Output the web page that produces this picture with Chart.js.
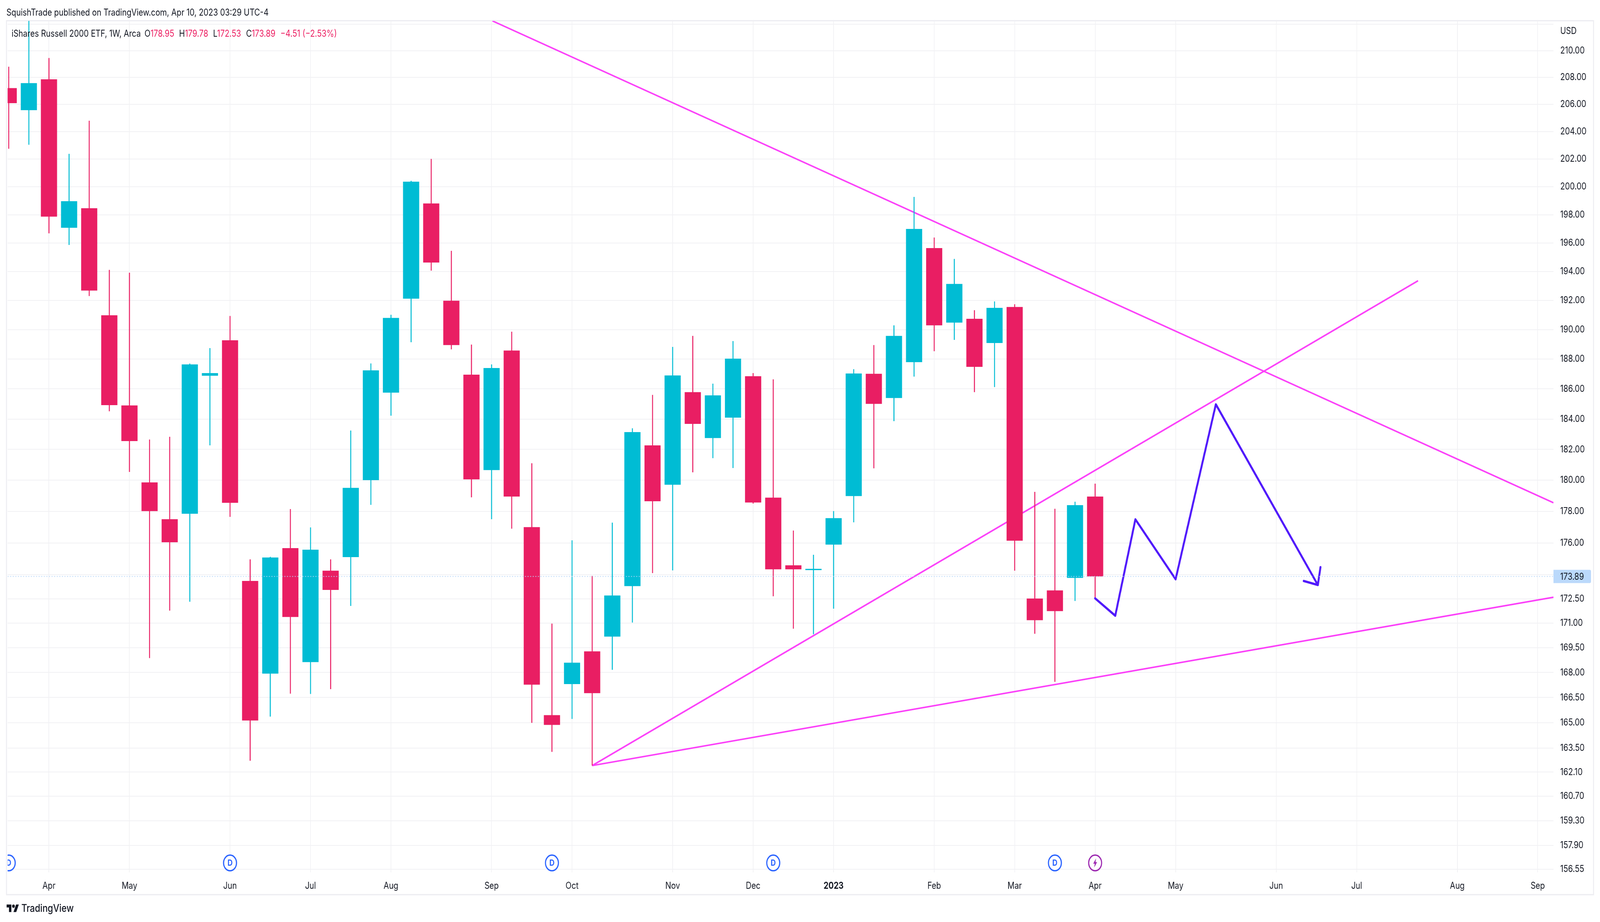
<!DOCTYPE html>
<html>
<head>
<meta charset="utf-8">
<script src="https://cdn.jsdelivr.net/npm/chart.js@4/dist/chart.umd.js"></script>
<style>
html,body{margin:0;padding:0;background:#fff;width:100%;height:100%;overflow:hidden}
#stage{position:absolute;left:0;top:0;width:4948px;height:2360px;transform-origin:0 0}
canvas{position:absolute;left:0;top:0}
.t{position:absolute;white-space:pre;font-family:Inter,sans-serif;font-size:24px;line-height:30px;color:#131722}
.r{color:#ec1f62}
</style>
</head>
<body>
<div id="stage">
<canvas id="c" width="4948" height="2360" style="width:4948px;height:2360px"></canvas>
<div class="t" style="left:20px;top:17px">SquishTrade published on TradingView.com, Apr 10, 2023 03:29 UTC-4</div>
<div class="t" style="left:36px;top:71px">iShares Russell 2000 ETF, 1W, Arca</div>
<div class="t" style="left:447px;top:71px">O<span class="r">178.95</span></div>
<div class="t" style="left:554px;top:71px">H<span class="r">179.78</span></div>
<div class="t" style="left:659px;top:71px">L<span class="r">172.53</span></div>
<div class="t" style="left:761px;top:71px">C<span class="r">173.89</span></div>
<div class="t r" style="left:867px;top:71px">−4.51 (−2.53%)</div>
<svg style="position:absolute;left:20px;top:2311px" width="39" height="30" viewBox="0 0 36 28"><path fill="#131722" d="M14 22H7V11H0V4h14v18zM28 22h-8l7.5-18h8L28 22z"/><circle fill="#131722" cx="20" cy="8" r="4"/></svg>
<div class="t" style="left:66px;top:2310px;font-size:27px;font-weight:500">TradingView</div>
</div>
<script>
const opens  = [207.20,205.57,207.86,197.07,198.46,190.98,184.90,179.86,177.50,177.85,186.88,189.27,173.61,167.93,175.67,168.63,174.25,175.10,180.01,185.75,192.12,198.80,191.98,186.95,180.66,188.58,177.00,165.45,167.30,169.28,170.18,173.29,182.27,179.71,185.78,182.75,184.09,186.85,178.88,174.59,174.29,175.89,178.98,187.01,185.39,187.79,195.64,190.48,190.74,189.09,191.55,172.52,173.02,173.80,178.95];
const highs  = [208.80,214.00,209.45,202.37,204.79,194.12,193.92,182.65,182.83,187.70,188.74,190.93,174.96,175.12,178.15,176.98,174.96,183.24,187.71,191.01,200.42,202.00,195.45,188.98,187.64,189.86,181.10,170.97,176.16,173.93,177.28,183.39,185.60,188.82,189.57,186.35,189.22,187.06,186.64,176.78,175.25,178.02,187.32,188.95,190.29,199.27,196.38,194.88,191.33,191.93,191.74,179.25,178.17,178.62,179.78];
const lows   = [202.74,203.03,196.68,195.86,192.30,184.51,180.54,168.87,171.77,172.32,182.27,177.65,162.76,165.36,166.73,166.71,167.00,172.06,178.42,184.22,189.14,194.06,188.66,178.90,177.50,176.90,164.99,163.28,165.22,162.48,168.16,171.04,174.10,174.27,180.51,181.43,180.79,178.50,172.66,170.66,170.32,171.89,177.30,180.77,183.86,186.82,188.53,189.30,185.78,186.12,174.25,170.35,167.44,172.37,172.53];
const closes = [206.09,207.57,197.86,198.96,192.68,184.92,182.55,178.02,176.04,187.64,187.06,178.55,165.13,175.08,171.38,175.57,173.05,179.51,187.24,190.80,200.36,194.63,188.95,180.06,187.40,178.95,167.27,164.87,168.59,166.76,172.71,183.14,178.65,186.90,183.68,185.57,188.03,178.57,174.34,174.34,174.37,177.57,187.03,185.00,189.57,196.99,190.29,193.14,187.48,191.49,176.14,171.18,171.74,178.40,173.89];

const xTickWeeks  = [2,6,11,15,19,24,28,33,37,41,46,50,54,58,63,67,72,76];
const xTickLabels = ['Apr','May','Jun','Jul','Aug','Sep','Oct','Nov','Dec','2023','Feb','Mar','Apr','May','Jun','Jul','Aug','Sep'];
const yTicks      = [212,210,208,206,204,202,200,198,196,194,192,190,188,186,184,182,180,178,176,174,172.5,171,169.5,168,166.5,165,163.5,162.1,160.7,159.3,157.9,156.55];
const yTickLabels = ['','210.00','208.00','206.00','204.00','202.00','200.00','198.00','196.00','194.00','192.00','190.00','188.00','186.00','184.00','182.00','180.00','178.00','176.00','','172.50','171.00','169.50','168.00','166.50','165.00','163.50','162.10','160.70','159.30','157.90','156.55'];

const lastPrice = 173.89;
const xMin = -0.056, xMax = 76.78, yMin = 156.37, yMax = 212.26;

const trendDown  = [{x:24.04,y:212.26},{x:76.78,y:178.55}];
const trendUp    = [{x:29,y:162.48},{x:70.05,y:193.36}];
const trendFloor = [{x:29,y:162.48},{x:76.78,y:172.60}];
const forecastPath = [{x:54,y:172.53},{x:55,y:171.46},{x:56,y:177.49},{x:58,y:173.72},{x:60,y:184.97},{x:65.07,y:173.36},{x:64.37,y:173.61},{x:65.07,y:173.36},{x:65.2,y:174.47}];

const dividendWeeks = [0,11,27,38,52];
const earningsWeeks = [54];
const markerPrice = 156.90;

// The browser window may be narrower than the 4948px design width: fit horizontally.
document.getElementById('stage').style.transform = 'scaleX(' + Math.min(1, window.innerWidth / 4948) + ')';

const UP = '#00bcd4', DOWN = '#e91e63', PINK = '#fb40f9', BLUE = '#5019fb', GRID = '#f1f1f4', BORDER = '#ececf1', INK = '#131722', DIV = '#2962ff', EARN = '#9c27b0';
const FONT = 'Inter, sans-serif';
const candleColors = closes.map((c,i)=> c < opens[i] ? DOWN : UP);
const wicks  = highs.map((h,i)=>({x:i,y:[lows[i],h]}));
const bodies = opens.map((o,i)=>({x:i,y:[Math.min(o,closes[i]),Math.max(o,closes[i])]}));
const markers = dividendWeeks.map(x=>({x,y:markerPrice})).concat(earningsWeeks.map(x=>({x,y:markerPrice})));
const markerColors = dividendWeeks.map(()=>DIV).concat(earningsWeeks.map(()=>EARN));

const overlay = {
  id:'overlay',
  beforeDraw(chart){
    const c = chart.ctx;
    c.save();
    c.strokeStyle = BORDER; c.lineWidth = 3;
    c.strokeRect(20,53,4908,2237);
    c.restore();
  },
  afterDraw(chart){
    const c = chart.ctx, x = chart.scales.x, y = chart.scales.y, a = chart.chartArea;
    c.save();
    c.beginPath(); c.rect(a.left,a.top,a.right-a.left,a.bottom-a.top+8); c.clip();
    c.textAlign='center'; c.textBaseline='middle';
    const my = y.getPixelForValue(markerPrice);
    dividendWeeks.forEach(w=>{
      c.fillStyle = DIV; c.font = '700 22px '+FONT;
      c.fillText('D', x.getPixelForValue(w), my+1);
    });
    earningsWeeks.forEach(w=>{
      const px = x.getPixelForValue(w);
      c.fillStyle = EARN; c.beginPath();
      c.moveTo(px+3,my-12); c.lineTo(px-6,my+2); c.lineTo(px-1,my+2); c.lineTo(px-3,my+12); c.lineTo(px+6,my-2); c.lineTo(px+1,my-2);
      c.closePath(); c.fill();
    });
    c.restore();
    c.save();
    const ty = y.getPixelForValue(lastPrice);
    c.fillStyle = '#bbd9fb';
    c.beginPath(); c.roundRect(a.right, ty-17, 116, 34, [0,4,4,0]); c.fill();
    c.fillStyle = INK; c.font = '24px '+FONT; c.textAlign='left'; c.textBaseline='middle';
    c.fillText(lastPrice.toFixed(2), 4825, ty+1);
    c.fillText('USD', 4825, 80);
    c.restore();
  }
};

new Chart(document.getElementById('c'),{
  data:{datasets:[
    {type:'line',label:'Events',data:markers,showLine:false,pointRadius:20,pointHoverRadius:20,pointBorderWidth:3.5,pointBackgroundColor:'#ffffff',pointBorderColor:markerColors,order:1},
    {type:'line',label:'Last price',data:[{x:xMin,y:lastPrice},{x:xMax,y:lastPrice}],borderColor:'#b5d5f8',borderWidth:2,borderDash:[3,5],pointRadius:0,order:2},
    {type:'line',label:'Forecast',data:forecastPath,borderColor:BLUE,borderWidth:6,borderJoinStyle:'round',borderCapStyle:'round',pointRadius:0,tension:0,order:3},
    {type:'bar',label:'Bodies',data:bodies,backgroundColor:candleColors,barThickness:50,grouped:false,borderWidth:0,inflateAmount:0,order:4},
    {type:'bar',label:'Wicks',data:wicks,backgroundColor:candleColors,barThickness:3,grouped:false,borderWidth:0,inflateAmount:0,order:5},
    {type:'line',label:'Trend down',data:trendDown,borderColor:PINK,borderWidth:4,pointRadius:0,order:6},
    {type:'line',label:'Trend up',data:trendUp,borderColor:PINK,borderWidth:4,pointRadius:0,order:7},
    {type:'line',label:'Trend floor',data:trendFloor,borderColor:PINK,borderWidth:4,pointRadius:0,order:8}
  ]},
  options:{
    responsive:false,animation:false,devicePixelRatio:1,
    events:[],
    layout:{padding:{left:20,top:53.5,right:20,bottom:70}},
    plugins:{legend:{display:false},tooltip:{enabled:false},title:{display:false}},
    scales:{
      x:{type:'linear',position:'bottom',min:xMin,max:xMax,offset:false,bounds:'data',
        afterBuildTicks(a){a.ticks=xTickWeeks.map(v=>({value:v}));},
        afterFit(a){a.height=57;},
        grid:{offset:false,color:GRID,lineWidth:2,drawTicks:false},
        border:{display:false},
        ticks:{autoSkip:false,maxRotation:0,minRotation:0,padding:20,color:INK,
          font:(ctx)=>({family:FONT,size:24,weight:(ctx.tick&&ctx.tick.value===41)?'700':'400'}),
          callback:(v)=>xTickLabels[xTickWeeks.indexOf(v)]}
      },
      y:{type:'logarithmic',position:'right',min:yMin,max:yMax,bounds:'data',
        afterBuildTicks(a){a.ticks=yTicks.map(v=>({value:v}));},
        afterFit(a){a.width=124;},
        grid:{color:GRID,lineWidth:2,drawTicks:false},
        border:{display:false},
        ticks:{autoSkip:false,maxRotation:0,minRotation:0,padding:21,color:INK,
          font:{family:FONT,size:24},
          callback:(v)=>yTickLabels[yTicks.indexOf(v)]}
      }
    }
  },
  plugins:[overlay]
});
</script>
</body>
</html>
